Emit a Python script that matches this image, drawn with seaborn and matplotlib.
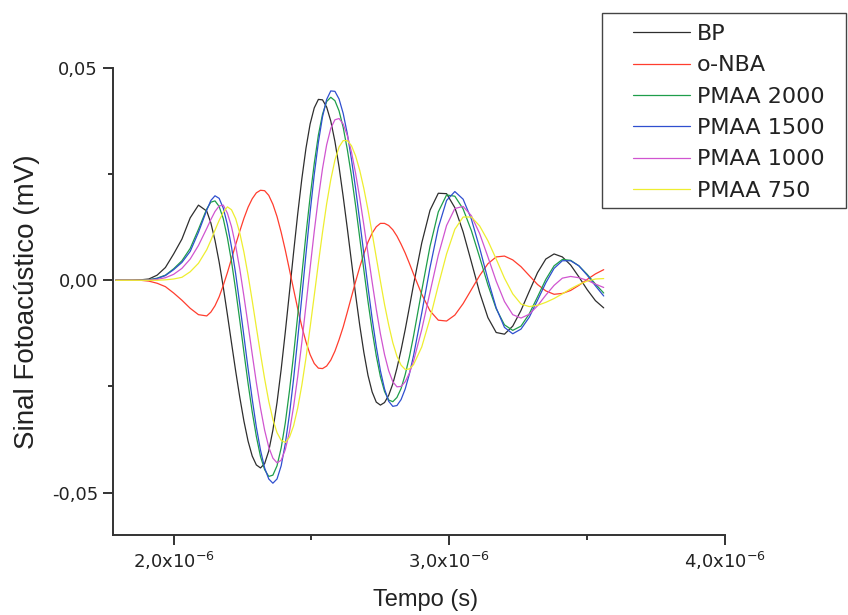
import numpy as np
import pandas as pd
import matplotlib
matplotlib.use("Agg")
import matplotlib.pyplot as plt
from matplotlib.patches import Rectangle
import seaborn as sns

# Sampling instants (microseconds); finer spacing over the main oscillation
tempo_us = [1.79, 1.82, 1.85, 1.88, 1.91, 1.94, 1.97, 2.00, 2.03, 2.06, 2.09, 2.12,
            2.135, 2.15, 2.165, 2.18, 2.195, 2.21, 2.225, 2.24, 2.255, 2.27,
            2.285, 2.30, 2.315, 2.33, 2.345, 2.36, 2.375, 2.39, 2.405, 2.42,
            2.435, 2.45, 2.465, 2.48, 2.495, 2.51, 2.525, 2.54, 2.555, 2.57,
            2.585, 2.60, 2.615, 2.63, 2.645, 2.66, 2.675, 2.69, 2.705, 2.72,
            2.735, 2.75, 2.765, 2.78, 2.795, 2.81, 2.825, 2.84, 2.855,
            2.87, 2.90, 2.93, 2.96, 2.99, 3.02, 3.05, 3.08, 3.11, 3.14, 3.17, 3.20,
            3.23, 3.26, 3.29, 3.32, 3.35, 3.38, 3.41, 3.44, 3.47, 3.50, 3.53, 3.56]

# Photoacoustic signal (mV) at each instant
bp = [0, 0, 0, 0.0001, 0.0003, 0.0012, 0.0030, 0.0062, 0.0097, 0.0147, 0.0177, 0.0163,
      0.0135, 0.0094, 0.0043, -0.0016, -0.0081, -0.0148, -0.0214, -0.0276, -0.0332, -0.0379,
      -0.0414, -0.0435, -0.0442, -0.0432, -0.0402, -0.0353, -0.0288, -0.0210, -0.0122, -0.0029,
      0.0065, 0.0156, 0.0239, 0.0311, 0.0368, 0.0406, 0.0426, 0.0425, 0.0408, 0.0375,
      0.0327, 0.0267, 0.0197, 0.0122, 0.0044, -0.0034, -0.0106, -0.0170, -0.0224, -0.0263,
      -0.0287, -0.0294, -0.0288, -0.0271, -0.0244, -0.0207, -0.0164, -0.0116, -0.0064,
      -0.0011, 0.0088, 0.0165, 0.0205, 0.0204, 0.0171, 0.0114, 0.0043, -0.0029, -0.0088,
      -0.0123, -0.0127, -0.0108, -0.0071, -0.0026, 0.0018, 0.0050, 0.0062, 0.0055, 0.0036,
      0.0008, -0.0022, -0.0048, -0.0065]

o_nba = [0, 0, 0, 0, -0.0002, -0.0007, -0.0015, -0.0030, -0.0047, -0.0066, -0.0081, -0.0084,
         -0.0075, -0.0060, -0.0039, -0.0012, 0.0018, 0.0051, 0.0084, 0.0116, 0.0146, 0.0172,
         0.0192, 0.0206, 0.0212, 0.0211, 0.0200, 0.0179, 0.0150, 0.0113, 0.0071, 0.0025,
         -0.0021, -0.0067, -0.0109, -0.0145, -0.0175, -0.0196, -0.0207, -0.0208, -0.0202, -0.0188,
         -0.0167, -0.0140, -0.0110, -0.0075, -0.0039, -0.0003, 0.0031, 0.0062, 0.0090, 0.0111,
         0.0126, 0.0134, 0.0134, 0.0129, 0.0119, 0.0104, 0.0085, 0.0064, 0.0040,
         0.0015, -0.0033, -0.0072, -0.0094, -0.0096, -0.0082, -0.0055, -0.0022, 0.0011, 0.0039,
         0.0055, 0.0057, 0.0048, 0.0032, 0.0011, -0.0010, -0.0025, -0.0033, -0.0031, -0.0024,
         -0.0012, 0.0002, 0.0015, 0.0025]

pmaa_2000 = [0, 0, 0, 0, 0.0001, 0.0005, 0.0012, 0.0027, 0.0046, 0.0075, 0.0120, 0.0168,
             0.0184, 0.0187, 0.0174, 0.0145, 0.0100, 0.0044, -0.0023, -0.0095, -0.0170, -0.0243,
             -0.0310, -0.0368, -0.0415, -0.0446, -0.0462, -0.0459, -0.0437, -0.0395, -0.0336, -0.0261,
             -0.0176, -0.0083, 0.0013, 0.0108, 0.0196, 0.0275, 0.0342, 0.0391, 0.0421, 0.0431,
             0.0423, 0.0399, 0.0360, 0.0308, 0.0246, 0.0176, 0.0100, 0.0024, -0.0050, -0.0118,
             -0.0178, -0.0227, -0.0262, -0.0282, -0.0286, -0.0276, -0.0255, -0.0222, -0.0181,
             -0.0132, -0.0024, 0.0080, 0.0161, 0.0201, 0.0198, 0.0168, 0.0117, 0.0054, -0.0011,
             -0.0067, -0.0105, -0.0118, -0.0108, -0.0079, -0.0039, 0.0002, 0.0034, 0.0049, 0.0047,
             0.0034, 0.0014, -0.0009, -0.0030]

pmaa_1500 = [0, 0, 0, 0, 0.0001, 0.0004, 0.0011, 0.0025, 0.0042, 0.0068, 0.0113, 0.0165,
             0.0188, 0.0199, 0.0193, 0.0170, 0.0131, 0.0078, 0.0015, -0.0057, -0.0132, -0.0208,
             -0.0280, -0.0346, -0.0400, -0.0442, -0.0468, -0.0478, -0.0468, -0.0437, -0.0385, -0.0316,
             -0.0233, -0.0138, -0.0039, 0.0062, 0.0160, 0.0249, 0.0325, 0.0385, 0.0426, 0.0446,
             0.0445, 0.0427, 0.0393, 0.0345, 0.0285, 0.0216, 0.0140, 0.0062, -0.0016, -0.0090,
             -0.0156, -0.0213, -0.0256, -0.0285, -0.0297, -0.0295, -0.0281, -0.0256, -0.0221,
             -0.0178, -0.0077, 0.0030, 0.0124, 0.0188, 0.0209, 0.0191, 0.0144, 0.0076, 0.0002,
             -0.0065, -0.0111, -0.0126, -0.0115, -0.0087, -0.0047, -0.0006, 0.0028, 0.0046, 0.0046,
             0.0034, 0.0012, -0.0013, -0.0037]

pmaa_1000 = [0, 0, 0, 0, 0, 0.0002, 0.0006, 0.0014, 0.0028, 0.0050, 0.0082, 0.0122,
             0.0143, 0.0162, 0.0175, 0.0177, 0.0158, 0.0126, 0.0081, 0.0026, -0.0038, -0.0105,
             -0.0174, -0.0241, -0.0301, -0.0353, -0.0393, -0.0419, -0.0430, -0.0424, -0.0399, -0.0357,
             -0.0298, -0.0227, -0.0146, -0.0059, 0.0029, 0.0115, 0.0194, 0.0263, 0.0319, 0.0358,
             0.0378, 0.0381, 0.0368, 0.0341, 0.0302, 0.0252, 0.0194, 0.0130, 0.0063, -0.0004,
             -0.0068, -0.0126, -0.0175, -0.0213, -0.0239, -0.0251, -0.0250, -0.0239, -0.0219,
             -0.0191, -0.0116, -0.0028, 0.0059, 0.0129, 0.0169, 0.0174, 0.0152, 0.0110, 0.0055,
             -0.0002, -0.0050, -0.0081, -0.0089, -0.0080, -0.0060, -0.0035, -0.0012, 0.0005, 0.0009,
             0.0006, 0.0000, -0.0009, -0.0017]

pmaa_750 = [0, 0, 0, 0, 0, 0, 0.0001, 0.0003, 0.0007, 0.0020, 0.0040, 0.0072,
            0.0094, 0.0118, 0.0141, 0.0160, 0.0173, 0.0166, 0.0145, 0.0111, 0.0066, 0.0012,
            -0.0048, -0.0111, -0.0173, -0.0232, -0.0285, -0.0328, -0.0359, -0.0377, -0.0382, -0.0370,
            -0.0343, -0.0301, -0.0247, -0.0183, -0.0111, -0.0036, 0.0040, 0.0113, 0.0180, 0.0237,
            0.0283, 0.0314, 0.0329, 0.0329, 0.0317, 0.0293, 0.0259, 0.0216, 0.0166, 0.0111,
            0.0054, -0.0002, -0.0057, -0.0105, -0.0147, -0.0179, -0.0200, -0.0210, -0.0209,
            -0.0199, -0.0157, -0.0090, -0.0012, 0.0062, 0.0120, 0.0149, 0.0149, 0.0128, 0.0093,
            0.0050, 0.0005, -0.0032, -0.0056, -0.0062, -0.0059, -0.0052, -0.0043, -0.0032, -0.0020,
            -0.0010, -0.0002, 0.0003, 0.0004]

series_names = ["BP", "o-NBA", "PMAA 2000", "PMAA 1500", "PMAA 1000", "PMAA 750"]
series_values = [bp, o_nba, pmaa_2000, pmaa_1500, pmaa_1000, pmaa_750]
series_colors = ["#2e2e2e", "#ff3d2e", "#1e9e4a", "#2f4fcf", "#d055d0", "#eeee30"]

y_ticks = [-0.05, 0.0, 0.05]
y_tick_labels = ["-0,05", "0,00", "0,05"]
x_ticks_us = [2.0, 3.0, 4.0]
x_tick_labels = [r"2,0x10$^{-6}$", r"3,0x10$^{-6}$", r"4,0x10$^{-6}$"]

# long-form table for seaborn
frames = []
for name, vals in zip(series_names, series_values):
    frames.append(pd.DataFrame({"t": np.array(tempo_us) * 1e-6,
                                "sinal": vals,
                                "amostra": name}))
df = pd.concat(frames, ignore_index=True)

sns.set_style("white")
plt.rcParams["font.family"] = ["Liberation Sans", "DejaVu Sans"]
plt.rcParams["mathtext.fontset"] = "dejavusans"

W, H = 848, 615
fig = plt.figure(figsize=(W / 100, H / 100), dpi=100)
ax = fig.add_axes([113 / W, (H - 535) / H, 612 / W, 467 / H])

palette = dict(zip(series_names, series_colors))
sns.lineplot(data=df, x="t", y="sinal", hue="amostra", hue_order=series_names,
             palette=palette, estimator=None, sort=False, linewidth=0.9,
             ax=ax, legend=False)

ax.set_xlim(1.78e-6, 4.0e-6)
ax.set_ylim(-0.06, 0.05)

spine_col = "#333333"
for side in ["top", "right"]:
    ax.spines[side].set_visible(False)
for side in ["left", "bottom"]:
    ax.spines[side].set_color(spine_col)
    ax.spines[side].set_linewidth(1.4)

ax.set_yticks(y_ticks)
ax.set_yticklabels(y_tick_labels)
ax.set_yticks([-0.025, 0.025], minor=True)
ax.set_xticks([x * 1e-6 for x in x_ticks_us])
ax.set_xticklabels(x_tick_labels)
ax.set_xticks([2.5e-6, 3.5e-6], minor=True)

ax.tick_params(which="both", bottom=True, left=True, top=False, right=False)
ax.tick_params(axis="both", which="major", direction="out", length=7.2, width=1.4,
               color=spine_col, labelsize=13, labelcolor="#222222",
               labelfontfamily="DejaVu Sans")
ax.tick_params(axis="both", which="minor", direction="out", length=3.6, width=1.4,
               color=spine_col)
ax.tick_params(axis="y", which="major", pad=3.6)
ax.tick_params(axis="x", which="major", pad=3.5)

ax.set_xlabel("Tempo (s)", fontsize=17, color="#222222")
ax.set_ylabel("Sinal Fotoacústico (mV)", fontsize=20, color="#222222")
ax.xaxis.set_label_coords(0.51, (535 - 589) / 467)
ax.yaxis.set_label_coords((40 - 113) / 612, 0.5)

# legend box drawn as its own rectangle, entries placed inside it
fig.patches.append(Rectangle((602 / W, 1 - 208 / H), 244 / W, 195 / H,
                             transform=fig.transFigure, fill=False,
                             edgecolor="#444444", linewidth=1.0))
handles = [plt.Line2D([], [], color=c, linewidth=0.9) for c in series_colors]
leg = fig.legend(handles, series_names, loc="upper left",
                 bbox_to_anchor=(633 / W, 1 - 24 / H), frameon=False,
                 prop={"family": "DejaVu Sans", "size": 16},
                 handlelength=2.55, handletextpad=0.32, labelspacing=0.51,
                 borderpad=0.0, borderaxespad=0.0)
for txt in leg.get_texts():
    txt.set_color("#222222")

fig.savefig("out.png", dpi=100)
